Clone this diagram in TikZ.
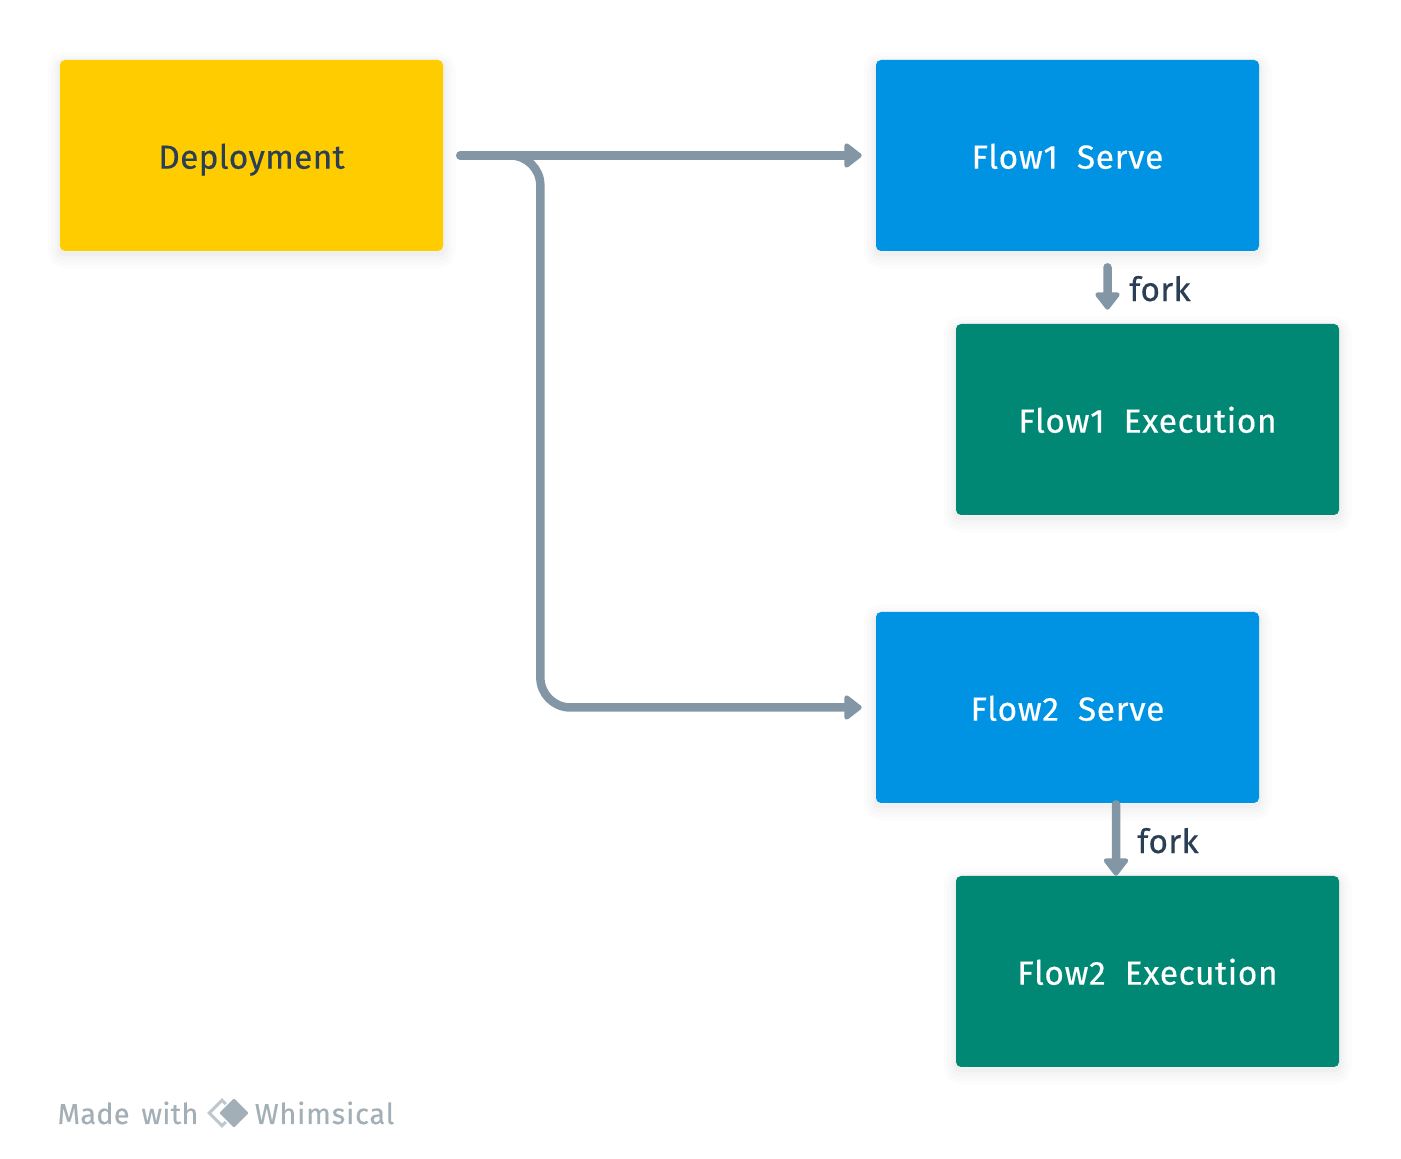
\documentclass[tikz,border=0pt]{standalone}
\usepackage{fontspec}
\setmainfont{Fira Sans}
\usepackage{xcolor}
\usetikzlibrary{calc}
\usetikzlibrary{arrows.meta}
\newfontfamily\boxfont[WordSpace=2,LetterSpace=2,FakeBold=0.4]{Fira Sans}
\newfontfamily\markfont[WordSpace=1.5,LetterSpace=1,FakeBold=0.4]{Fira Sans}
\definecolor{yellowbox}{HTML}{FFCC00}
\definecolor{bluebox}{HTML}{0093E3}
\definecolor{greenbox}{HTML}{008875}
\definecolor{linegrey}{HTML}{8296A5}
\definecolor{textdark}{HTML}{2A3F55}
\definecolor{markgrey}{HTML}{A3AFB6}
\tikzset{
	softshadow/.style={preaction={draw=black,opacity=0.012,line width=0.5cm,transform canvas={yshift=-0.1cm}},
		preaction={draw=black,opacity=0.012,line width=0.36cm,transform canvas={yshift=-0.1cm}},
		preaction={draw=black,opacity=0.015,line width=0.22cm,transform canvas={yshift=-0.08cm}},
		preaction={draw=black,opacity=0.02,line width=0.1cm,transform canvas={yshift=-0.06cm}}},
	flowbox/.style={rectangle,rounded corners=1mm,softshadow,minimum width=7.66cm,minimum height=3.82cm,inner sep=0pt,font=\boxfont\fontsize{19pt}{23pt}\selectfont,text=white,text height=15pt,text depth=0pt},
	flowline/.style={draw=linegrey,line width=0.17cm,line cap=round,-{Triangle[length=0.38cm,width=0.56cm,round]}},
	forklabel/.style={font=\boxfont\fontsize{19pt}{23pt}\selectfont\addfontfeature{LetterSpace=1},text=textdark,inner sep=0pt,text height=15pt,text depth=0pt},
	marklabel/.style={font=\markfont\fontsize{16.4pt}{20pt}\selectfont,text=markgrey,inner sep=0pt,anchor=base}
}
\begin{document}
\begin{tikzpicture}[>=latex]
		\useasboundingbox (0,0) rectangle (28.02,23.18);
		%elements
		\node at (5.03,20.07) (deployment) [flowbox,fill=yellowbox,text=textdark,font=\boxfont\fontsize{19pt}{23pt}\selectfont\addfontfeature{LetterSpace=1}] {Deployment};

		\node at ($(deployment)+(16.32cm,0cm)$) (flow1serve) [flowbox,fill=bluebox] {Flow1 Serve};

		\node at ($(flow1serve)+(1.6cm,-5.28cm)$) (flow1exec) [flowbox,fill=greenbox] {Flow1 Execution};

		\node at ($(flow1serve)+(0cm,-11.04cm)$) (flow2serve) [flowbox,fill=bluebox] {Flow2 Serve};

		\node at ($(flow2serve)+(1.6cm,-5.28cm)$) (flow2exec) [flowbox,fill=greenbox] {Flow2 Execution};

		\coordinate (elbow) at ($(deployment.east)+(1.94cm,0cm)$);
		\coordinate (fork1top) at ($(flow1serve.south)+(0.8cm,0cm)$);
		\coordinate (fork1end) at ($(flow1exec.north)+(-0.8cm,0cm)$);
		\coordinate (fork2top) at ($(flow2serve.south)+(0.97cm,0cm)$);
		\coordinate (fork2end) at ($(flow2exec.north)+(-0.63cm,0cm)$);

		%text
		\node at ($(fork1top)+(1.05cm,-0.73cm)$) (fork1) [forklabel] {fork};
		\node at ($(fork2top)+(1.04cm,-0.73cm)$) (fork2) [forklabel] {fork};

		\node at (2.56,0.7) (madewith) [marklabel] {Made with};
		\node at (6.49,0.7) (whimsical) [marklabel,font=\markfont\fontsize{16.4pt}{20pt}\selectfont\addfontfeature{LetterSpace=3}] {Whimsical};
		\node at (4.44,0.92) (markback) [draw=markgrey!70,line width=0.06cm,rectangle,rotate=45,minimum size=0.36cm,inner sep=0pt] {};
		\node at (4.68,0.92) (markfront) [fill=markgrey,draw=white,line width=0.03cm,rectangle,rounded corners=0.3mm,rotate=45,minimum size=0.45cm,inner sep=0pt] {};

		%connectors
		\draw [flowline,shorten <=0.34cm,shorten >=0.28cm] (deployment.east) -- (flow1serve.west);
		\draw [flowline,rounded corners=0.6cm,shorten <=0.34cm,shorten >=0.28cm] (deployment.east) -- (elbow) |- (flow2serve.west);
		\draw [flowline,shorten <=0.32cm,shorten >=0.28cm] (fork1top) -- (fork1end);
		\draw [flowline,shorten <=0.02cm] (fork2top) -- (fork2end);
		\end{tikzpicture}
\end{document}
